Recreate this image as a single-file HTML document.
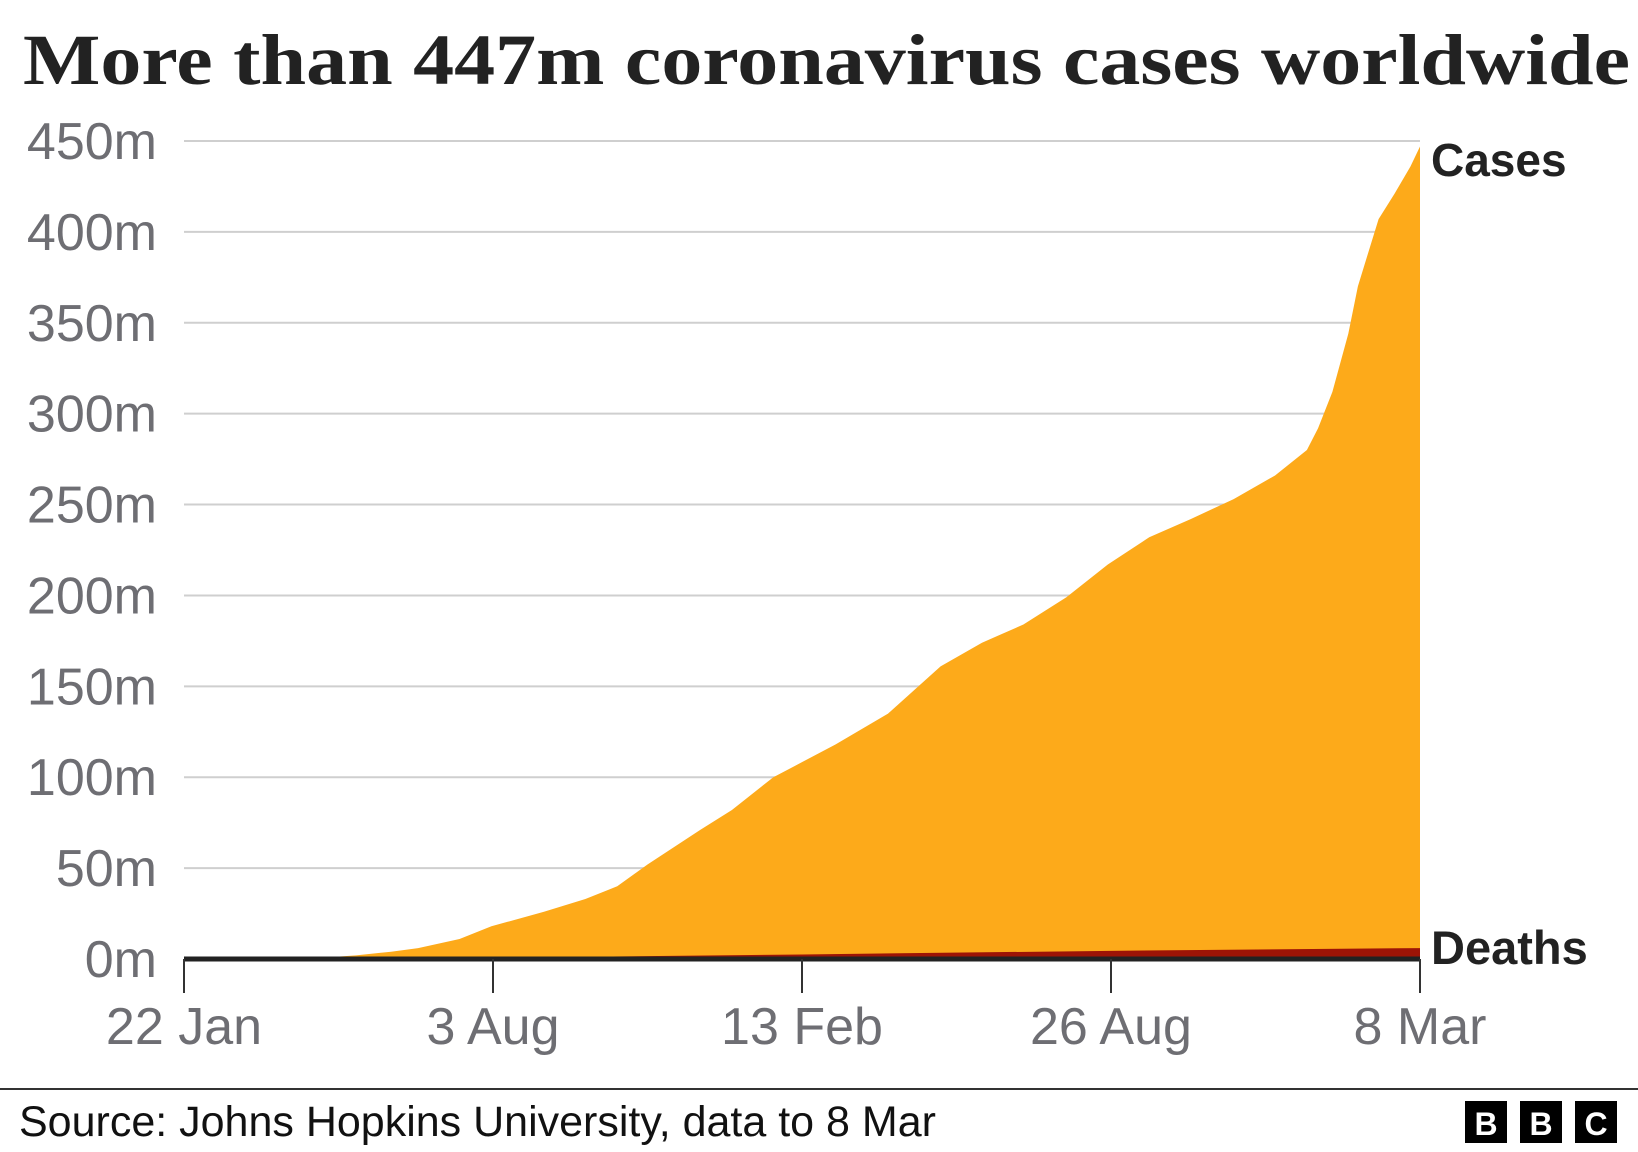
<!DOCTYPE html>
<html><head><meta charset="utf-8"><style>
html,body{margin:0;padding:0;background:#fff}
svg{display:block}
</style></head><body>
<svg id="chart" width="1638" height="1152" viewBox="0 0 1638 1152" xmlns="http://www.w3.org/2000/svg">
<text x="23" y="84" font-family="'Liberation Serif', serif" font-weight="bold" font-size="72" fill="#222" textLength="1607" lengthAdjust="spacingAndGlyphs">More than 447m coronavirus cases worldwide</text>
<g id="grid"></g>
<g id="areas"></g>
<g id="axis"></g>
<text x="1431" y="176" font-family="'Liberation Sans', sans-serif" font-weight="bold" font-size="46" fill="#222">Cases</text>
<text x="1431" y="964" font-family="'Liberation Sans', sans-serif" font-weight="bold" font-size="47" fill="#222">Deaths</text>
<line x1="0" y1="1089" x2="1638" y2="1089" stroke="#333" stroke-width="2"/>
<text x="19" y="1136" font-family="'Liberation Sans', sans-serif" font-size="43" fill="#111">Source: Johns Hopkins University, data to 8 Mar</text>
<g>
<rect x="1465" y="1101" width="42" height="42" fill="#000"/><text x="1486" y="1135" text-anchor="middle" font-family="'Liberation Sans', sans-serif" font-weight="bold" font-size="32" fill="#fff">B</text>
<rect x="1520" y="1101" width="42" height="42" fill="#000"/><text x="1541" y="1135" text-anchor="middle" font-family="'Liberation Sans', sans-serif" font-weight="bold" font-size="32" fill="#fff">B</text>
<rect x="1575" y="1101" width="42" height="42" fill="#000"/><text x="1596" y="1135" text-anchor="middle" font-family="'Liberation Sans', sans-serif" font-weight="bold" font-size="32" fill="#fff">C</text>
</g>
</svg>
<script>
const caseDays = [0,75,108,130,147,173,193,226,252,272,291,324,344,370,383,409,442,475,501,527,554,580,606,632,659,685,705,712,721,731,737,744,750,760,770,776];
const caseValues = [0,0,2,4,6,11,18,26,33,40,52,71,82,100,106,118,135,161,174,184,199,217,232,242,253,266,280,292,312,344,370,390,407,421,436,447];
const deathDays = [0,200,388,582,776];
const deathValues = [0,0.7,2.5,4.5,6];
const yTicks = [0,50,100,150,200,250,300,350,400,450];
const xTickDays = [0,194,388,582,776];
const xTickLabels = ["22 Jan","3 Aug","13 Feb","26 Aug","8 Mar"];

const NS = "http://www.w3.org/2000/svg";
const X0 = 184, X1 = 1420, Y0 = 959, Y1 = 141, DMAX = 776, VMAX = 450;
const xs = d => X0 + (X1 - X0) * d / DMAX;
const ys = v => Y0 - (Y0 - Y1) * v / VMAX;
function mk(tag, attrs, parent){const e=document.createElementNS(NS,tag);for(const k in attrs)e.setAttribute(k,attrs[k]);parent.appendChild(e);return e;}

const grid = document.getElementById('grid');
yTicks.forEach(t => {
  if (t > 0) {
    const l = mk('line',{x1:X0,x2:X1,y1:ys(t),y2:ys(t),stroke:'#cfcfcf','stroke-width':2},grid);
    
    
  }
  const tx = mk('text',{x:157,y:ys(t)+18,'text-anchor':'end','font-family':"'Liberation Sans', sans-serif",'font-size':52,fill:'#6e6e73'},grid);
  tx.textContent = t + 'm';
  
  
});

const areas = document.getElementById('areas');
function areaPath(days, vals){
  let d = 'M' + xs(days[0]) + ',' + ys(0);
  days.forEach((dd,i)=>{ d += ' L' + xs(dd) + ',' + ys(vals[i]); });
  d += ' L' + xs(days[days.length-1]) + ',' + ys(0) + ' Z';
  return d;
}
const ca = mk('path',{d:areaPath(caseDays,caseValues),fill:'#fdaa1a'},areas);


const da = mk('path',{d:areaPath(deathDays,deathValues),fill:'#9d1406'},areas);



const axis = document.getElementById('axis');
const base = mk('line',{x1:X0,x2:X1,y1:Y0,y2:Y0,stroke:'#222','stroke-width':5},axis);


xTickDays.forEach((d,i)=>{
  const tk = mk('line',{x1:xs(d),x2:xs(d),y1:Y0,y2:Y0+34,stroke:'#333','stroke-width':2},axis);
  
  
  const tx = mk('text',{x:xs(d),y:1044,'text-anchor':'middle','font-family':"'Liberation Sans', sans-serif",'font-size':52,fill:'#6e6e73'},axis);
  tx.textContent = xTickLabels[i];
  
  
});
</script>
</body></html>
